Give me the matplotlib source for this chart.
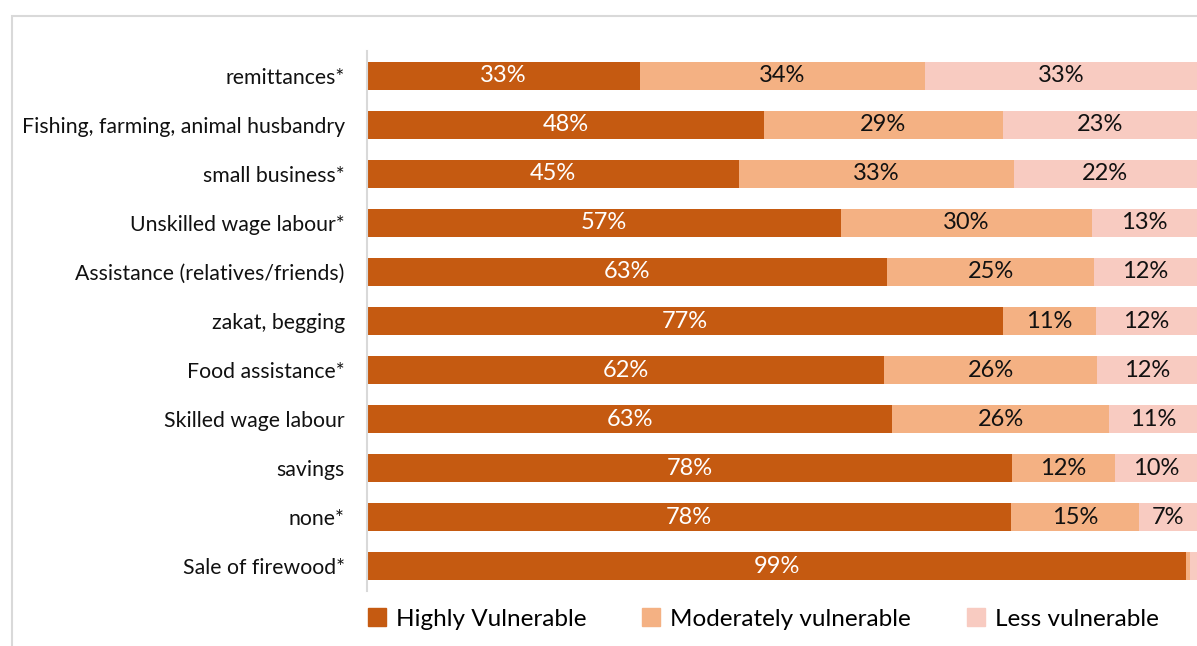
import matplotlib
matplotlib.use("Agg")
import matplotlib.pyplot as plt
from matplotlib.patches import Rectangle, Patch

plt.rcParams['font.family'] = ['Lato', 'DejaVu Sans']

categories = ["remittances*", "Fishing, farming, animal husbandry", "small business*",
              "Unskilled wage labour*", "Assistance (relatives/friends)", "zakat, begging",
              "Food assistance*", "Skilled wage labour", "savings", "none*", "Sale of firewood*"]
highly = [32.9, 47.8, 44.8, 57.1, 62.7, 76.6, 62.3, 63.3, 77.7, 77.6, 98.7]
moderately = [34.3, 28.8, 33.1, 30.2, 24.9, 11.2, 25.7, 26.1, 12.4, 15.4, 0.4]
less = [32.8, 23.4, 22.1, 12.7, 12.4, 12.2, 12.0, 10.6, 9.9, 7.0, 0.9]
series_names = ["Highly Vulnerable", "Moderately vulnerable", "Less vulnerable"]
colors = ["#C55A11", "#F4B183", "#F8CBC1"]
text_colors = ["white", "#111111", "#111111"]

fig = plt.figure(figsize=(11.97, 6.46), dpi=100)
ax = fig.add_axes([367/1197, 55/646, 1 - 367/1197, 540/646])

# chart frame (cropped on right and bottom)
fig.patches.append(Rectangle((12/1197, -0.1), 1.2, (646-16)/646 + 0.1, transform=fig.transFigure,
                             fill=False, edgecolor="#d9d9d9", linewidth=1.5, clip_on=False))

y = list(range(len(categories)))
left = [0] * len(categories)
for vals, name, c, tc in zip([highly, moderately, less], series_names, colors, text_colors):
    ax.barh(y, vals, left=left, height=0.57, color=c, label=name)
    for i, v in enumerate(vals):
        if v >= 3:
            ax.text(left[i] + v / 2, i, f"{v:.0f}%", ha="center", va="center",
                    color=tc, fontsize=17)
    left = [l + v for l, v in zip(left, vals)]

ax.set_xlim(0, 100)
ax.set_ylim(len(categories) - 0.5, -0.5)
ax.set_yticks(y)
ax.set_yticklabels(categories, fontsize=15.3, color="#111111")
ax.tick_params(axis="y", length=0, pad=16)
ax.set_xticks([])
for s in ["top", "right", "bottom"]:
    ax.spines[s].set_visible(False)
ax.spines["left"].set_color("#d9d9d9")
ax.spines["left"].set_linewidth(1.5)

handles = [Patch(color=c) for c in colors]
fig.legend(handles, series_names, loc="center", bbox_to_anchor=(763/1197, 1 - 619/646),
           ncol=3, frameon=False, fontsize=17.5, handlelength=0.75, handleheight=0.75,
           handletextpad=0.4, columnspacing=2.3)

fig.savefig("out.png", dpi=100)
